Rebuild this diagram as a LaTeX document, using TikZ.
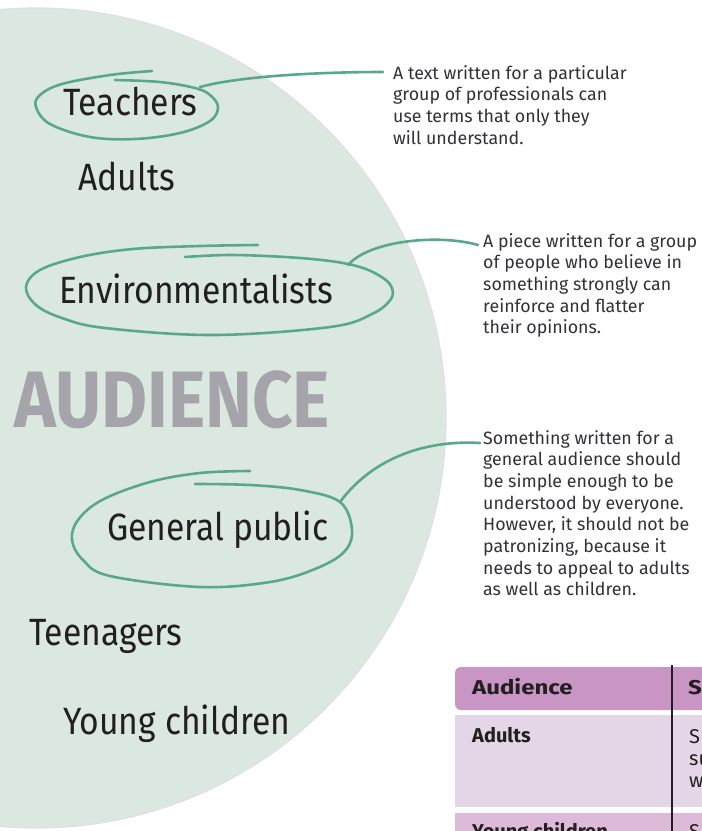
\documentclass[tikz,border=0pt]{standalone}
\usepackage{fontspec}
\setmainfont{Fira Sans}
\usepackage{graphicx}
\definecolor{disc}{RGB}{219,232,224}
\definecolor{discedge}{RGB}{226,222,226}
\definecolor{loopc}{RGB}{90,168,140}
\definecolor{ink}{RGB}{35,31,32}
\definecolor{descink}{RGB}{50,50,54}
\definecolor{titlegray}{RGB}{164,164,170}
\definecolor{headc}{RGB}{201,149,196}
\definecolor{rowa}{RGB}{227,214,231}
\definecolor{rowb}{RGB}{221,186,216}
\tikzset{
  lbl/.style={anchor=base west, inner sep=0pt, text=ink, font=\fontsize{38}{42}\selectfont},
  desc/.style={anchor=base west, inner sep=0pt, text=descink},
  loopline/.style={draw=loopc, line width=2.6pt, line cap=round, line join=round},
  tabtext/.style={anchor=base west, inner sep=0pt, text=ink, font=\fontsize{20}{22}\selectfont},
  tabbold/.style={anchor=base west, inner sep=0pt, text=ink, font=\fontsize{20}{22}\selectfont\bfseries}
}
\newcommand{\desctext}[1]{\parbox[t]{300pt}{\raggedright\fontsize{17.8}{21.7}\selectfont #1}}
\newcommand{\narrow}[1]{\scalebox{0.885}[1]{#1}}
\begin{document}
\begin{tikzpicture}[x=1pt,y=-1pt]
\useasboundingbox (0,0) rectangle (702,831);
\fill[white] (0,0) rectangle (702,831);
% big disc
\fill[disc] (36,418) circle (410pt);
\draw[discedge, line width=1.2pt] (36,418) circle (410pt);
% table
\fill[headc, rounded corners=6pt] (455,667) -- (455,710) -- (710,710) -- (710,667) -- cycle;
\fill[rowa] (455,715) rectangle (710,807);
\fill[rowb] (455,813) rectangle (710,850);
\draw[ink, line width=1.3pt] (672,665) -- (672,850);
\node[tabbold] (th1) at (472,694) {\scalebox{1.2}[1]{Audience}};
\node[tabbold] (th2) at (688,694) {\scalebox{1.2}[1]{S}};
\node[tabbold] (tr1) at (472,742) {Adults};
\node[tabtext] (tr1b) at (689,743) {S};
\node[tabtext] (tr1c) at (689,765) {su};
\node[tabtext] (tr1d) at (689,787) {w};
\node[tabbold] (tr2) at (472,838) {Young children};
\node[tabtext] (tr2b) at (689,838) {S};
% labels
\node[lbl] (teach) at (63,115) {\narrow{Teachers}};
\node[lbl] (adults) at (78,190) {\narrow{Adults}};
\node[lbl] (env) at (59,303) {\narrow{Environmentalists}};
\node[anchor=base west, inner sep=0pt, text=titlegray, font=\fontsize{80}{80}\selectfont\bfseries] (aud) at (14,427) {\scalebox{0.884}[1]{AUDIENCE}};
\node[lbl] (gen) at (107,540) {\narrow{General public}};
\node[lbl] (teen) at (29,645) {\narrow{Teenagers}};
\node[lbl] (young) at (63,734) {\narrow{Young children}};
% descriptions
\node[desc] (d1) at (393,79) {\desctext{A text written for a particular\\group of professionals can\\use terms that only they\\will understand.}};
\node[desc] (d2) at (483,247) {\desctext{A piece written for a group\\of people who believe in\\something strongly can\\reinforce and flatter\\their opinions.}};
\node[desc] (d3) at (483,444) {\desctext{Something written for a\\general audience should\\be simple enough to be\\understood by everyone.\\However, it should not be\\patronizing, because it\\needs to appeal to adults\\as well as children.}};
% loops
\draw[loopline] plot[smooth, tension=0.6] coordinates {(152,71) (110,75) (62,84) (40,95) (36,107) (50,124) (90,137) (135,139) (180,133) (210,121) (218,107) (210,95) (195,88) (160,82) (115,80)};
\draw[loopline] plot[smooth, tension=0.6] coordinates {(258,245) (200,246) (133,249) (80,257) (40,270) (26,287) (36,305) (62,318) (105,328) (213,335) (330,327) (372,314) (391,299) (391,286) (380,276) (360,267) (330,261) (285,257) (230,255) (185,257)};
\draw[loopline] plot[smooth, tension=0.6] coordinates {(250,471) (200,473) (150,482) (102,500) (78,520) (72,540) (83,560) (110,576) (200,587) (270,582) (315,569) (344,552) (352,530) (340,502) (300,490) (250,485) (195,484)};
% connectors
\coordinate (k1) at (200,87);
\coordinate (k2) at (348,265);
\coordinate (k3) at (340,502);
\coordinate (e1) at (383,72);
\coordinate (e2) at (478,245);
\coordinate (e3) at (480,443);
\draw[loopline] (k1) .. controls (240,76) and (320,72) .. (e1);
\draw[loopline] (k2) .. controls (370,240) and (440,234) .. (e2);
\draw[loopline] (k3) .. controls (375,455) and (430,440) .. (e3);
\end{tikzpicture}
\end{document}
